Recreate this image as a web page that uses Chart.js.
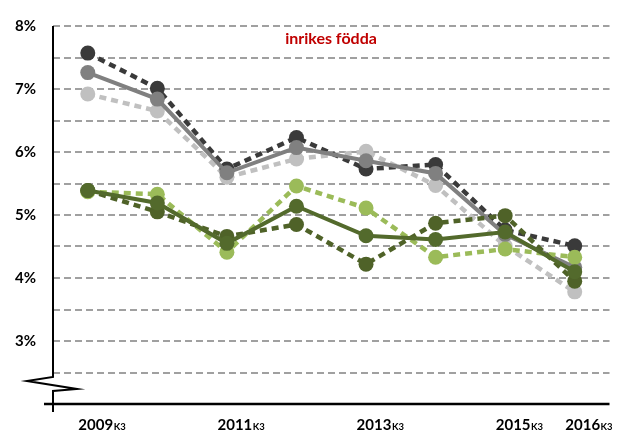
<!DOCTYPE html>
<html>
<head>
<meta charset="utf-8">
<script src="https://cdn.jsdelivr.net/npm/chart.js@4.4.1/dist/chart.umd.min.js"></script>
<style>
  html, body { margin: 0; padding: 0; background: #fff; }
  #wrap { width: 617px; height: 434px; }
</style>
</head>
<body>
<div id="wrap"><canvas id="lineChart" width="617" height="434"></canvas></div>
<script>
// years on the x axis, only some of them get a label
var years = ["2009", "2010", "2011", "2012", "2013", "2014", "2015", "2016"];
var labelledYears = ["2009", "2011", "2013", "2015", "2016"];
var yearSuffix = "K3";
var chartTitle = "inrikes födda";

// shares in percent
var darkGray   = [7.57, 7.01, 5.73, 6.23, 5.73, 5.80, 4.76, 4.51];
var midGray    = [7.26, 6.84, 5.67, 6.07, 5.86, 5.66, 4.69, 4.17];
var lightGray  = [6.92, 6.65, 5.60, 5.89, 6.01, 5.47, 4.51, 3.78];
var darkGreen  = [5.39, 5.05, 4.66, 4.85, 4.22, 4.87, 4.99, 3.95];
var midGreen   = [5.39, 5.19, 4.55, 5.14, 4.67, 4.61, 4.73, 4.10];
var lightGreen = [5.37, 5.33, 4.41, 5.46, 5.11, 4.33, 4.46, 4.33];

var yMin = 2, yMax = 8, yStep = 0.5;

var FONT = "Lato, 'Open Sans', sans-serif";

function series(data, color, dashed, order) {
	return {
		data: data,
		borderColor: color,
		backgroundColor: color,
		pointBackgroundColor: color,
		pointBorderWidth: 0,
		pointRadius: 7.5,
		borderWidth: dashed ? 4.5 : 4,
		borderDash: dashed ? [7, 5] : [],
		tension: 0,
		order: order
	};
}

// draws axis lines, the axis break, x labels with subscript and the title
var decorations = {
	id: "decorations",
	afterDraw: function(chart) {
		var ctx = chart.ctx;
		var area = chart.chartArea;
		var x = chart.scales.x;
		var y = chart.scales.y;
		var left = area.left;
		var top = y.getPixelForValue(yMax);
		var bottom = y.getPixelForValue(yMin);

		ctx.save();
		ctx.strokeStyle = "#000";
		ctx.lineWidth = 2;
		ctx.lineJoin = "miter";

		// y axis with break
		ctx.beginPath();
		ctx.moveTo(left, top);
		ctx.lineTo(left, bottom - 27);
		ctx.lineTo(left - 26, bottom - 23);
		ctx.lineTo(left + 24, bottom - 15);
		ctx.lineTo(left, bottom - 13);
		ctx.lineTo(left, bottom + 8);
		ctx.stroke();

		// x axis
		ctx.lineWidth = 2.5;
		ctx.beginPath();
		ctx.moveTo(left - 9, bottom);
		ctx.lineTo(area.right, bottom);
		ctx.stroke();

		// x labels
		ctx.fillStyle = "#000";
		ctx.textBaseline = "alphabetic";
		ctx.textAlign = "left";
		labelledYears.forEach(function(yr) {
			var cx = x.getPixelForValue(years.indexOf(yr)) + 14;
			ctx.font = "bold 15px " + FONT;
			var w1 = ctx.measureText(yr).width;
			ctx.font = "bold 9.5px " + FONT;
			var w2 = ctx.measureText(yearSuffix).width;
			var sx = cx - (w1 + w2) / 2;
			ctx.font = "bold 15px " + FONT;
			ctx.fillText(yr, sx, bottom + 26);
			ctx.font = "bold 9.5px " + FONT;
			ctx.fillText(yearSuffix, sx + w1 + 0.5, bottom + 26);
		});

		// title
		ctx.fillStyle = "#c00000";
		ctx.textAlign = "center";
		ctx.font = "bold 16px " + FONT;
		ctx.fillText(chartTitle, 331, 44);
		ctx.restore();
	}
};

var canvas = document.getElementById("lineChart");
var ctx = canvas.getContext("2d");

new Chart(ctx, {
	type: "line",
	data: {
		labels: years,
		datasets: [
			series(midGreen, "#536a2c", false, 1),
			series(darkGreen, "#4f6228", true, 2),
			series(lightGreen, "#9bbb59", true, 3),
			series(midGray, "#808080", false, 4),
			series(darkGray, "#3a3a3a", true, 5),
			series(lightGray, "#c0c0c0", true, 6)
		]
	},
	options: {
		responsive: false,
		animation: false,
		layout: { padding: { top: 20, right: 0, left: 0, bottom: 0 } },
		plugins: {
			legend: { display: false },
			tooltip: { enabled: false },
			title: { display: false }
		},
		scales: {
			x: {
				type: "category",
				offset: true,
				grid: { display: false, drawTicks: false },
				border: { display: false },
				ticks: { display: false },
				afterFit: function(scale) { scale.height = 30; }
			},
			y: {
				min: yMin,
				max: yMax,
				border: { display: false, dash: [7, 4] },
				grid: {
					drawTicks: false,
					lineWidth: 2,
					color: function(c) {
						return c.tick && c.tick.value === yMin ? "rgba(0,0,0,0)" : "#a0a0a0";
					}
				},
				ticks: {
					stepSize: yStep,
					padding: 17,
					color: "#000",
					font: { family: FONT, size: 15, weight: "bold" },
					callback: function(v) {
						return (Number.isInteger(v) && v > yMin) ? v + "%" : "";
					}
				},
				afterFit: function(scale) { scale.width = 53; }
			}
		}
	},
	plugins: [decorations]
});
</script>
</body>
</html>
